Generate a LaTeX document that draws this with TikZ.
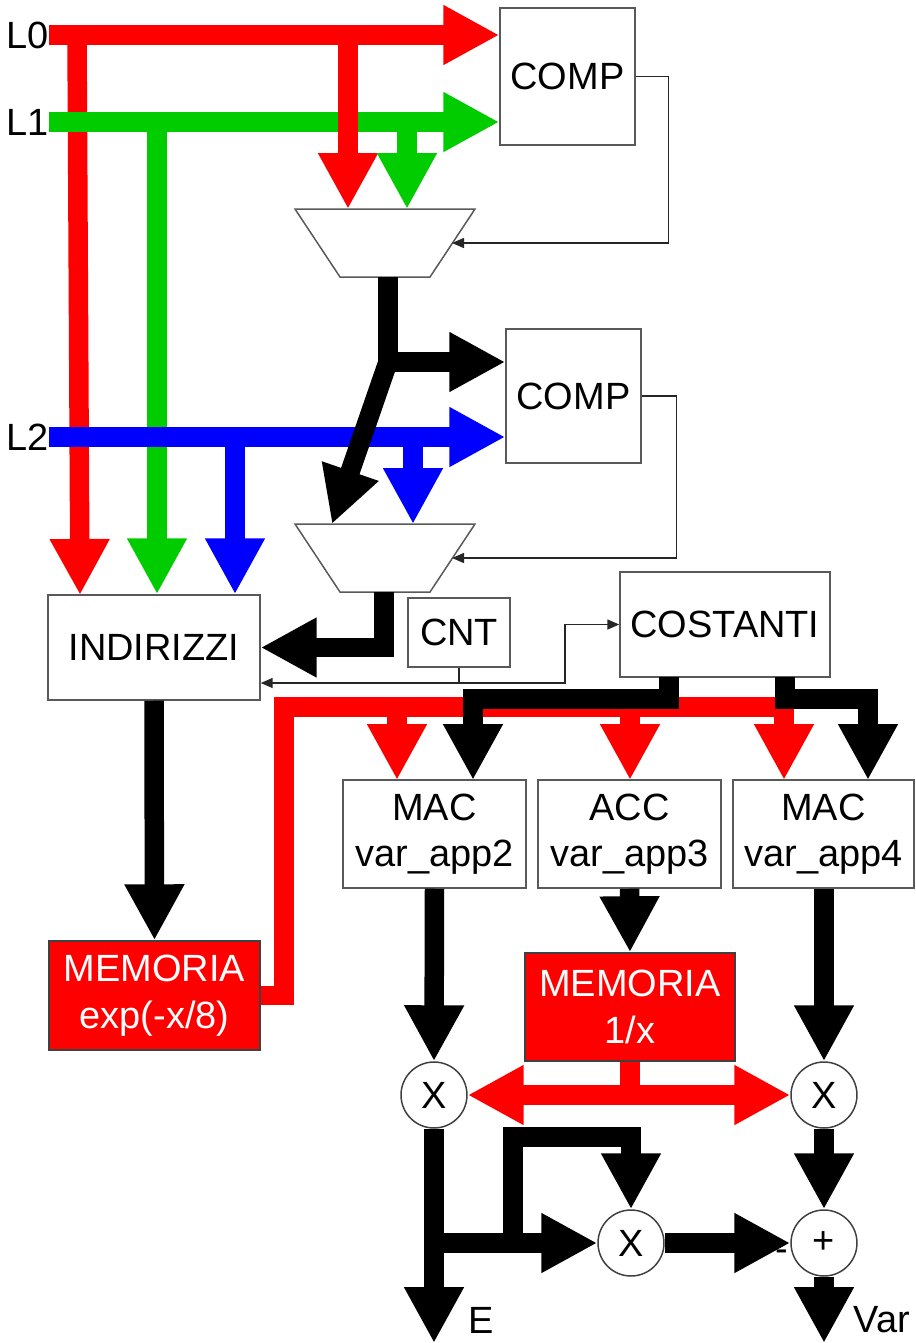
\documentclass[tikz,border=0pt]{standalone}
\usepackage{fontspec}
\setmainfont{Liberation Sans}
\usetikzlibrary{arrows.meta}

\definecolor{busred}{RGB}{255,0,0}
\definecolor{busgreen}{RGB}{0,204,0}
\definecolor{busblue}{RGB}{0,0,255}

\tikzset{
  pipe/.style={line width=0.39cm},
  bus/.style={pipe, -{Triangle[length=1.12cm,width=1.12cm]}},
  wire/.style={line width=0.85pt, black!85, -{Triangle[length=0.24cm,width=0.2cm]}},
  block/.style={draw=black!65, line width=0.85pt, fill=white, align=center, inner sep=0pt, font=\fontsize{21.6}{26.5}\selectfont},
  memblock/.style={block, draw=black!75, fill=busred, text=white},
  op/.style={circle, draw=black!75, line width=0.85pt, fill=white, minimum size=1.32cm, inner sep=0pt, font=\fontsize{21.6}{26.5}\selectfont},
  mux/.style={draw=black!65, line width=0.85pt, fill=white},
  lbl/.style={inner sep=0pt, font=\fontsize{21.6}{26.5}\selectfont},
}

\begin{document}
\begin{tikzpicture}[x=0.02cm, y=-0.02cm]
	\useasboundingbox (0,0) rectangle (916,1343);

	% blocks
	\node[block, minimum width=2.7cm, minimum height=2.74cm] (comp1) at (567.5,76.5) {COMP};
	\node[block, minimum width=2.7cm, minimum height=2.68cm] (comp2) at (573.5,396) {COMP};
	\node[block, minimum width=4.24cm, minimum height=2.1cm] (ind) at (154,647.5) {INDIRIZZI};
	\node[block, minimum width=2.04cm, minimum height=1.38cm] (cnt) at (459,632.5) {CNT};
	\node[block, minimum width=4.2cm, minimum height=2.1cm] (cost) at (725,624.5) {COSTANTI};
	\node[block, minimum width=3.66cm, minimum height=2.16cm] (mac2) at (434.5,834) {MAC\\var\_app2};
	\node[block, minimum width=3.66cm, minimum height=2.16cm] (acc3) at (629.5,834) {ACC\\var\_app3};
	\node[block, minimum width=3.62cm, minimum height=2.16cm] (mac4) at (823.5,834) {MAC\\var\_app4};
	\node[memblock, minimum width=4.22cm, minimum height=2.18cm] (memexp) at (154.5,995.5) {MEMORIA\\exp(-x/8)};
	\node[memblock, minimum width=4.2cm, minimum height=2.16cm] (meminv) at (630,1007) {MEMORIA\\1/x};

	\node[op] (mulL) at (434,1095) {X};
	\node[op] (mulR) at (824,1095) {X};
	\node[op] (mulM) at (631,1243) {X};
	\node[op] (add) at (824,1243) {+};

	% multiplexers
	\draw[mux] (295,209) -- (475,209) -- (430,277) -- (340,277) -- cycle;
	\draw[mux] (295,524) -- (475,524) -- (430,592) -- (340,592) -- cycle;
	\coordinate (mux1in0) at (348,209);
	\coordinate (mux1in1) at (407,209);
	\coordinate (mux1sel) at (452,243);
	\coordinate (mux1out) at (388,277);
	\coordinate (mux2in0) at (332,524);
	\coordinate (mux2in1) at (413,524);
	\coordinate (mux2sel) at (452,558);
	\coordinate (mux2out) at (384,592);

	% inputs
	\node[lbl, anchor=east] (l0) at (49,35) {L0};
	\node[lbl, anchor=east] (l1) at (49,122) {L1};
	\node[lbl, anchor=east] (l2) at (49,437) {L2};

	\coordinate (r0) at (77,35);
	\coordinate (r1) at (348,35);
	\coordinate (g0) at (157,122);
	\coordinate (g1) at (407,122);
	\coordinate (b0) at (235,437);
	\coordinate (b1) at (413,437);

	\draw[bus, busred] (l0.east) -- (l0.east -| comp1.west);
	\draw[bus, busred] (r0) -- (80,595);
	\draw[bus, busgreen] (l1.east) -- (l1.east -| comp1.west);
	\draw[bus, busgreen] (g0) -- (g0 |- ind.north);
	\draw[bus, busred] (r1) -- (mux1in0);
	\draw[bus, busgreen] (g1) -- (mux1in1);

	\draw[bus, busblue] (l2.east) -- (l2.east -| comp2.west);
	\draw[bus, busblue] (b0) -- (b0 |- ind.north);
	\draw[bus, busblue] (b1) -- (mux2in1);

	% mux outputs
	\coordinate (m1split) at (388,362);
	\draw[bus] (mux1out) -- (m1split) -- (m1split -| comp2.west);
	\draw[bus] (m1split) -- (mux2in0);
	\draw[bus] (mux2out) -- (mux2out |- ind.east) -- (ind.east);

	% select lines
	\draw[wire] (comp1.east) -- ++(33,0) |- (mux1sel);
	\draw[wire] (comp2.east) -- ++(35,0) |- (mux2sel);
	\coordinate (cntj) at (459,683);
	\draw[wire] (cnt.south) -- (cntj) -- (cntj -| ind.east);
	\draw[wire] (cntj) -- (565,683) |- (cost.west);

	% exp(-x/8) to the accumulators
	\coordinate (rj) at (284,707);
	\draw[pipe, busred] (memexp.east) -- (memexp.east -| rj) -- (rj) -- (793.5,707);
	\draw[bus, busred] (397,707) -- (397,780);
	\draw[bus, busred] (630,707) -- (630,780);
	\draw[bus, busred] (784,707) -- (784,780);

	% constants
	\draw[bus] (669,677) -- (669,699) -- (473,699) -- (473,780);
	\draw[bus] (785,677) -- (785,699) -- (868,699) -- (868,780);

	\draw[bus] (ind.south) -- (memexp.north);
	\draw[bus] (mac2.south) -- (mulL.north);
	\draw[bus] (acc3.south) -- (meminv.north);
	\draw[bus] (mac4.south -| mulR) -- (mulR.north);

	% 1/x
	\coordinate (invj) at (630,1095);
	\draw[pipe, busred] (meminv.south) -- (invj);
	\draw[bus, busred] (invj) -- (mulL.east);
	\draw[bus, busred] (invj) -- (mulR.west);

	% outputs
	\coordinate (eout) at (434,1343);
	\coordinate (vout) at (824,1343);
	\coordinate (ej) at (434,1243);
	\coordinate (loopj) at (513,1243);
	\draw[bus] (mulL.south) -- (eout);
	\draw[bus] (ej) -- (mulM.west);
	\draw[bus] (loopj) -- (513,1137) -| (mulM.north);
	\draw[bus] (mulM.east) -- (add.west);
	\draw[bus] (mulR.south) -- (add.north);
	\draw[bus] (add.south) -- (vout);

	\node[lbl] (minus) at (782,1256) {-};
	\node[lbl] (elab) at (481,1320) {E};
	\node[lbl] (varlab) at (882,1320) {Var};
\end{tikzpicture}
\end{document}
